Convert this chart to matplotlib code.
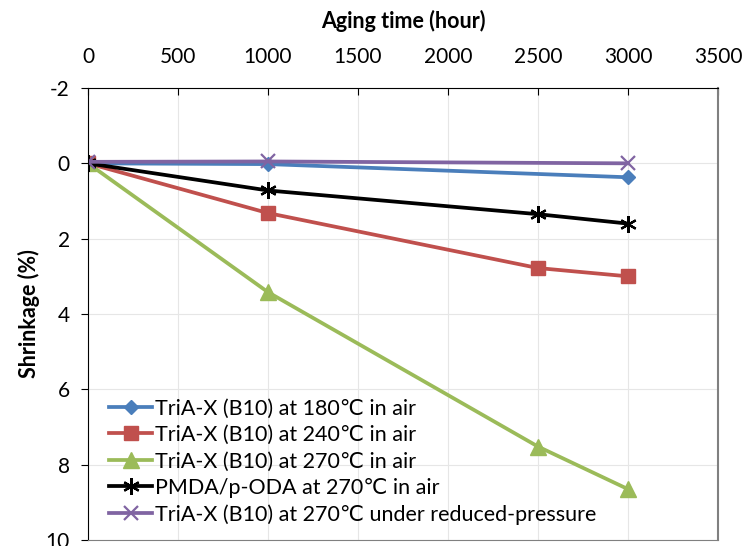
import matplotlib
matplotlib.use("Agg")
import matplotlib.pyplot as plt

plt.rcParams['font.family'] = ['Lato', 'DejaVu Sans']
plt.rcParams['axes.unicode_minus'] = False

# aging time (hour) and shrinkage (%)
t_180 = [0, 1000, 3000]
s_180 = [0.0, 0.02, 0.37]
t_240 = [0, 1000, 2500, 3000]
s_240 = [0.0, 1.32, 2.78, 3.0]
t_270 = [0, 1000, 2500, 3000]
s_270 = [0.0, 3.42, 7.52, 8.65]
t_pmda = [0, 1000, 2500, 3000]
s_pmda = [0.0, 0.72, 1.35, 1.6]
t_red = [0, 1000, 3000]
s_red = [-0.04, -0.05, 0.0]

labels = ["TriA-X (B10) at 180\u2103 in air",
          "TriA-X (B10) at 240\u2103 in air",
          "TriA-X (B10) at 270\u2103 in air",
          "PMDA/p-ODA at 270\u2103 in air",
          "TriA-X (B10) at 270\u2103 under reduced-pressure"]

fig = plt.figure(figsize=(7.43, 5.46), dpi=100)
ax = fig.add_axes([0.1184, 0.011, 0.848, 0.8278])

lw = 2.7
ax.plot(t_180, s_180, color='#4a7ebb', lw=lw, marker='D', ms=7.5, label=labels[0])
ax.plot(t_240, s_240, color='#c0504d', lw=lw, marker='s', ms=10.5, label=labels[1])
ax.plot(t_270, s_270, color='#9bbb59', lw=lw, marker='^', ms=11.5, label=labels[2])
ax.plot(t_pmda, s_pmda, color='black', lw=lw, marker=(6, 2, 0), ms=12, mew=1.6, label=labels[3])
ax.plot(t_red, s_red, color='#8064a2', lw=lw, marker='x', ms=10, mew=1.6, label=labels[4])

ax.set_xlim(0, 3500)
ax.set_ylim(10, -2)
ax.set_xticks(range(0, 3501, 500))
ax.set_yticks(range(-2, 11, 2))
ax.xaxis.tick_top()
ax.xaxis.set_label_position('top')
ax.tick_params(axis='x', direction='in', length=5, labelsize=15, pad=15)
ax.tick_params(axis='y', direction='out', length=5, labelsize=15, pad=8)
ax.grid(True, color='#e6e6e6', lw=0.8)
ax.set_axisbelow(True)

ax.set_xlabel("Aging time (hour)", fontsize=15.5, fontweight='bold', labelpad=14)
ax.set_ylabel("Shrinkage (%)", fontsize=15.5, fontweight='bold', labelpad=4)

ax.spines['right'].set_color('#808080')
ax.spines['right'].set_linewidth(1.5)
ax.spines['bottom'].set_color('#808080')

ax.legend(loc='lower left', frameon=False, fontsize=15.5, handlelength=2.0,
          handletextpad=0.1, labelspacing=0.3, borderaxespad=0.3,
          bbox_to_anchor=(0.01, 0.0))

fig.savefig("out.png", dpi=100)
